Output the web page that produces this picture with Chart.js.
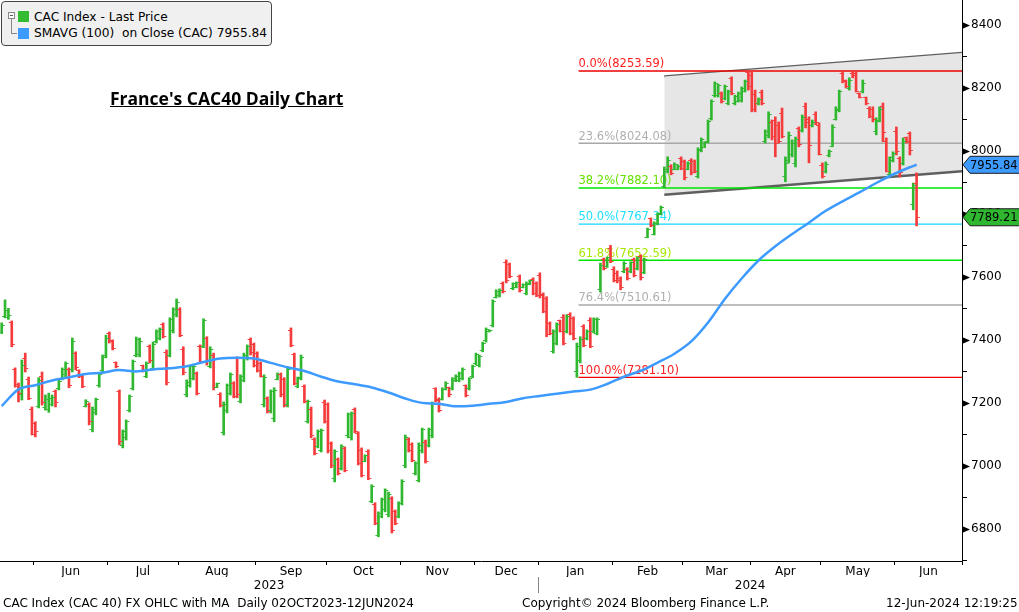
<!DOCTYPE html>
<html>
<head>
<meta charset="utf-8">
<title>France's CAC40 Daily Chart</title>
<script src="https://cdn.jsdelivr.net/npm/chart.js@4.4.1/dist/chart.umd.min.js"></script>
<style>
  body { margin: 0; background: #fff; }
  #wrap { position: relative; width: 1019px; height: 612px; overflow: hidden; font-family: "DejaVu Sans", sans-serif; }
  #c { position: absolute; left: 0; top: 0; }
  #legend { position: absolute; left: 1px; top: 1px; width: 269px; height: 43px; border: 1px solid #444; border-radius: 4px; background: #f0f0f0; font-size: 12.2px; color: #000; }
  #legend div { position: absolute; }
  .tb { left: 6px; top: 10px; width: 5px; height: 5px; border: 1px solid #888; background: #fff; }
  .tb:after { content: ""; position: absolute; left: 1px; top: 2px; width: 3px; height: 1px; background: #555; }
  .tv { left: 9px; top: 17px; width: 1px; height: 14px; background: #888; }
  .th { left: 9px; top: 31px; width: 6px; height: 1px; background: #888; }
  .sq { left: 16px; width: 11px; height: 11px; }
  .lt { left: 32px; white-space: pre; line-height: 14px; }
  #title { position: absolute; left: 110px; top: 87px; font-family: "Open Sans", "DejaVu Sans", sans-serif; font-weight: bold; font-size: 17.5px; line-height: 22px; text-decoration: underline; color: #000; white-space: pre; }
  .foot { position: absolute; top: 596px; font-size: 12px; line-height: 14px; color: #000; white-space: pre; }
</style>
</head>
<body>
<div id="wrap">
  <canvas id="c" width="1019" height="612"></canvas>
  <div id="legend">
    <div class="tb"></div><div class="tv"></div><div class="th"></div>
    <div class="sq" style="top:9px;background:#33bb33"></div>
    <div class="lt" style="top:8px">CAC Index - Last Price</div>
    <div class="sq" style="top:26px;background:#3d9bff"></div>
    <div class="lt" style="top:24px">SMAVG (100)  on Close (CAC) 7955.84</div>
  </div>
  <div id="title">France's CAC40 Daily Chart</div>
  <div class="foot" style="left:3px">CAC Index (CAC 40) FX OHLC with MA  Daily 02OCT2023-12JUN2024</div>
  <div class="foot" style="left:522px">Copyright© 2024 Bloomberg Finance L.P.</div>
  <div class="foot" style="left:886px">12-Jun-2024 12:19:25</div>
</div>
<script>
// x axis: trading day index, month starts (index of first trading day)
var months = ['Jun', 'Jul', 'Aug', 'Sep', 'Oct', 'Nov', 'Dec', 'Jan', 'Feb', 'Mar', 'Apr', 'May', 'Jun'];
var monthStart = [10, 32, 53, 76, 97, 119, 141, 160, 182, 203, 223, 244, 266, 286];
var years = ['2023', '2024'];
var yearStart = [0, 160, 286];

// y axis ticks
var priceTicks = [6700, 6800, 6900, 7000, 7100, 7200, 7300, 7400, 7500, 7600, 7700, 7800, 7900, 8000, 8100, 8200, 8300, 8400];
var priceLabels = [6800, 7000, 7200, 7400, 7600, 7800, 8000, 8200, 8400];

// daily OHLC, 18 May 2023 .. 11 Jun 2024
var opens = [
  7425,7475,7470,7455,7305,7258,7225,7340,7275,7180,
  7135,7190,7285,7185,7180,7195,7235,7245,7278,7290,7305,7305,7358,7302,7285,7190,7195,7115,7170,7255,7302,7350,
  7420,7398,7328,7235,7065,7090,7175,7245,7350,7352,7318,7285,7380,7310,7395,7405,7450,7360,7350,7430,7480,
  7495,7370,7225,7255,7278,7292,7380,7380,7405,7315,7350,7250,7228,7105,7175,7230,7262,7340,7205,7272,7340,7400,7385,
  7358,7325,7195,7215,7175,7150,7275,7290,7275,7195,7430,7352,7252,7280,7252,7142,7180,7085,7062,7050,7200,
  7195,7070,6960,7020,6992,7055,7095,7090,7178,7102,7050,7015,7045,6888,6878,6780,6840,6860,6845,6895,6855,6840,
  6880,7000,7085,7068,6975,6955,7048,7075,7065,7095,7245,7212,7212,7244,7248,7245,7270,7270,7276,7254,7245,7284,
  7324,7318,7365,7397,7426,7445,7536,7540,7580,7645,7640,7562,7567,7600,7566,7548,7577,7592,7580,
  7605,7545,7530,7452,7362,7390,7460,7472,7426,7480,7468,7300,7335,7442,7404,7462,7426,7420,7560,7655,7634,7690,
  7625,7612,7596,7616,7625,7616,7655,7626,7664,7615,7726,7784,7736,7768,7800,7888,7934,7952,7942,7942,7975,
  7965,7942,7970,7966,7920,8000,8012,8030,8102,8175,8175,8183,8166,8150,8230,8150,8158,8160,8190,8248,
  8240,8180,8150,8185,8030,8050,8090,8095,8080,8120,7920,7970,7990,7960,8070,8065,8140,8100,8080,8115,8080,
  7955,7935,7985,8015,8100,8128,8245,8222,8198,8245,8245,8182,8188,8168,8135,8130,8060,8095,8140,8030,7925,7968,
  8060,7975,7960,8042,8055,7830,7895
];
var highs = [
  7454,7527,7500,7460,7311,7263,7336,7358,7282,7187,
  7140,7280,7298,7225,7231,7225,7241,7273,7311,7330,7311,7406,7362,7305,7290,7210,7200,7187,7215,7295,7352,7415,
  7425,7400,7330,7241,7114,7146,7225,7336,7409,7406,7320,7330,7384,7393,7432,7438,7454,7368,7470,7502,7530,
  7502,7378,7273,7320,7320,7298,7384,7467,7410,7378,7358,7263,7232,7203,7260,7295,7267,7346,7289,7358,7384,7406,7390,
  7362,7330,7289,7219,7241,7248,7295,7295,7280,7311,7438,7358,7282,7352,7257,7209,7187,7089,7114,7117,7209,
  7200,7076,7051,7025,7067,7060,7168,7171,7184,7108,7057,7035,7051,6940,6883,6854,6898,6927,6917,6902,6860,6886,
  6956,7098,7089,7073,7013,7073,7120,7082,7120,7203,7248,7216,7248,7267,7250,7280,7289,7298,7311,7257,7280,7320,
  7358,7352,7393,7438,7432,7527,7559,7562,7584,7654,7644,7581,7584,7606,7578,7584,7590,7597,7584,
  7613,7549,7537,7457,7432,7454,7463,7480,7480,7486,7473,7390,7410,7448,7432,7470,7470,7470,7644,7660,7663,7700,
  7632,7619,7600,7648,7629,7648,7660,7663,7670,7660,7755,7787,7775,7803,7825,7949,7981,7956,7962,7956,7981,
  7971,7965,7975,7971,8010,8041,8029,8098,8162,8219,8212,8187,8209,8193,8235,8177,8187,8203,8225,8253.59,
  8250,8193,8168,8193,8067,8124,8098,8108,8092,8136,7981,8060,8035,8044,8076,8114,8152,8108,8098,8124,8089,
  7962,7965,8003,8083,8140,8193,8250,8225,8232,8250,8251,8184,8225,8171,8140,8140,8105,8140,8152,8041,7981,7997,
  8076,7981,8041,8044,8060,7898,7930
];
var lows = [
  7420,7470,7465,7378,7250,7203,7209,7298,7210,7098,
  7092,7184,7193,7177,7170,7190,7187,7241,7273,7282,7248,7298,7305,7280,7248,7187,7130,7108,7162,7250,7298,7343,
  7390,7368,7311,7067,7057,7082,7171,7241,7346,7346,7298,7280,7327,7305,7390,7400,7406,7257,7346,7422,7473,
  7410,7289,7219,7250,7273,7225,7327,7375,7320,7311,7241,7248,7187,7098,7168,7225,7216,7216,7200,7267,7336,7352,7314,
  7298,7282,7187,7168,7168,7140,7273,7219,7187,7187,7378,7257,7248,7273,7200,7136,7089,7035,7057,7044,7136,
  7041,6994,6949,6971,6987,6981,7089,7082,7105,7003,6965,7013,6956,6883,6813,6775,6835,6854,6838,6787,6813,6835,
  6876,6994,7044,7013,6971,6949,7041,7009,7060,7089,7203,7171,7209,7241,7219,7241,7267,7267,7273,7219,7241,7280,
  7320,7314,7362,7393,7425,7441,7533,7536,7549,7581,7597,7559,7565,7552,7565,7543,7575,7543,7537,
  7533,7486,7410,7416,7358,7384,7425,7384,7422,7416,7400,7281.10,7327,7378,7400,7375,7422,7416,7552,7622,7630,7645,
  7584,7581,7559,7613,7590,7613,7600,7622,7590,7610,7724,7759,7733,7765,7797,7883,7930,7924,7940,7940,7940,
  7908,7940,7924,7930,7914,7997,8010,8025,8098,8171,8171,8152,8162,8146,8178,8146,8155,8155,8187,8193,
  8124,8124,8146,8146,8025,8041,8035,7981,8025,8041,7902,7962,7981,7949,8013,8060,8073,7962,8076,8083,7987,
  7914,7930,7981,8013,8098,8124,8216,8200,8193,8232,8187,8168,8184,8146,8105,8092,8051,8092,8029,7933,7917,7965,
  7987,7917,7955,8025,7987,7813,7762
];
var closes = [
  7446,7492,7478,7385,7253,7229,7319,7310,7215,7100,
  7110,7270,7200,7210,7215,7218,7200,7268,7305,7325,7255,7395,7312,7285,7252,7205,7140,7180,7210,7290,7345,7405,
  7395,7372,7315,7077,7108,7140,7220,7330,7400,7395,7302,7325,7335,7385,7428,7432,7410,7265,7465,7495,7520,
  7415,7295,7265,7315,7315,7230,7332,7460,7330,7370,7250,7260,7192,7195,7255,7290,7220,7225,7285,7350,7380,7360,7320,
  7302,7285,7280,7172,7235,7240,7290,7225,7192,7305,7382,7262,7278,7345,7205,7203,7095,7040,7108,7112,7140,
  7050,7000,7045,6975,7062,6985,7162,7165,7110,7008,6970,7032,6960,6935,6818,6850,6892,6922,6910,6795,6818,6882,
  6950,7090,7050,7018,7008,7065,7115,7015,7115,7198,7208,7175,7243,7263,7225,7276,7285,7294,7306,7223,7276,7315,
  7352,7348,7390,7434,7431,7522,7555,7558,7552,7590,7600,7578,7582,7556,7576,7580,7588,7548,7542,
  7540,7490,7418,7420,7428,7448,7428,7390,7475,7420,7405,7380,7402,7382,7428,7380,7465,7464,7635,7628,7660,7650,
  7590,7588,7565,7644,7595,7645,7605,7660,7598,7655,7750,7762,7770,7798,7820,7940,7970,7928,7958,7952,7945,
  7915,7960,7930,7935,8005,8035,8026,8092,8156,8214,8206,8156,8204,8188,8182,8172,8183,8198,8220,8205,
  8130,8150,8162,8150,8060,8115,8045,8024,8030,8045,7960,8050,8025,8035,8020,8106,8090,8016,8090,8090,7990,
  7918,7958,7998,8075,8131,8187,8219,8205,8225,8239,8190,8170,8215,8150,8108,8100,8094,8132,8058,7935,7978,7992,
  7999,7930,8030,8030,8001,7890,7789.21
];

// 100-day simple moving average
var maIdx = [0,5,10,15,20,25,30,35,40,45,50,55,60,65,70,75,80,85,90,95,100,105,110,115,120,125,130,135,140,145,
  150,155,160,165,170,175,180,185,190,195,200,205,210,215,220,225,230,235,240,245,250,255,260,265,270,272];
var maVal = [7190,7243,7256,7271,7281,7292,7296,7304,7300,7306,7310,7316,7330,7341,7343,7341,7327,7313,7301,7283,
  7268,7259,7249,7233,7214,7200,7197,7189,7191,7197,7203,7215,7222,7229,7236,7242,7260,7283,7302,7328,
  7356,7395,7455,7530,7595,7652,7697,7736,7772,7810,7840,7868,7898,7925,7948,7955.84];

// Fibonacci retracement from the Jan low to the high
var fibPct = ['0.0%', '23.6%', '38.2%', '50.0%', '61.8%', '76.4%', '100.0%'];
var fibLevel = [8253.59, 8024.08, 7882.10, 7767.34, 7652.59, 7510.61, 7281.10];
var fibLine = ['#ee0000', '#a8a8a8', '#00e600', '#12d4ff', '#00e600', '#a8a8a8', '#ee0000'];
var fibText = ['#ff2020', '#b0b0b0', '#66e000', '#1ee0ff', '#a8e800', '#b0b0b0', '#ff2020'];
var fibStart = 171.5;

// rising channel
var channelX = [197, 285.5];
var channelTop = [8236, 8311];
var channelBottom = [7861, 7935];

var lastPrice = 7789.21;
var lastMA = 7955.84;

var UP = '#2fb82f', DOWN = '#f53b3b';

var xMin = -0.5, xMax = 285.5;
var boundaryTicks = monthStart.map(function (s) { return s - 0.5; });
var centerTicks = months.map(function (m, i) { return (monthStart[i] + monthStart[i + 1]) / 2 - 0.5; });
var yearCenters = years.map(function (y, i) { return (yearStart[i] + yearStart[i + 1]) / 2 - 0.5; });

// little canvases used as point styles for the open / close ticks
function tickImg(color, left) {
  var c = document.createElement('canvas');
  c.width = 8; c.height = 1;
  var g = c.getContext('2d');
  g.fillStyle = color;
  g.fillRect(left ? 1 : 5, 0, 2, 1);
  return c;
}
var imgs = { ou: tickImg(UP, true), od: tickImg(DOWN, true), cu: tickImg(UP, false), cd: tickImg(DOWN, false) };

var isUp = closes.map(function (c, i) { return c >= opens[i]; });
var barColors = isUp.map(function (u) { return u ? UP : DOWN; });

var datasets = [];
// channel (drawn lowest)
datasets.push({
  type: 'line', label: 'chTop', order: 9,
  data: channelX.map(function (x, i) { return { x: x, y: channelTop[i] }; }),
  borderColor: '#5f5f5f', borderWidth: 2.5, pointRadius: 0, fill: false
});
datasets.push({
  type: 'line', label: 'chBottom', order: 8,
  data: channelX.map(function (x, i) { return { x: x, y: channelBottom[i] }; }),
  borderColor: '#5f5f5f', borderWidth: 2.5, pointRadius: 0,
  fill: '-1', backgroundColor: '#e6e6e6'
});
fibLevel.forEach(function (lv, i) {
  datasets.push({
    type: 'line', label: 'fib' + i, order: 7,
    data: [{ x: fibStart, y: lv }, { x: xMax, y: lv }],
    borderColor: fibLine[i], borderWidth: 1.4, pointRadius: 0, fill: false
  });
});
datasets.push({
  type: 'bar', label: 'CAC Index', order: 3, grouped: false,
  data: highs.map(function (h, i) { return { x: i, y: [lows[i], h] }; }),
  backgroundColor: barColors, barThickness: 2
});
datasets.push({
  type: 'scatter', label: 'open', order: 2,
  data: opens.map(function (o, i) { return { x: i, y: o }; }),
  pointStyle: isUp.map(function (u) { return u ? imgs.ou : imgs.od; }), pointRadius: 1
});
datasets.push({
  type: 'scatter', label: 'close', order: 2,
  data: closes.map(function (c, i) { return { x: i, y: c }; }),
  pointStyle: isUp.map(function (u) { return u ? imgs.cu : imgs.cd; }), pointRadius: 1
});
datasets.push({
  type: 'line', label: 'SMAVG (100)', order: 0,
  data: maIdx.map(function (x, i) { return { x: x, y: maVal[i] }; }),
  borderColor: '#3d9bff', borderWidth: 2.5, pointRadius: 0, fill: false,
  cubicInterpolationMode: 'monotone'
});

// fib labels go right after the channel fill, under the bars
var fibLabels = {
  id: 'fibLabels',
  afterDatasetDraw: function (chart, args) {
    if (chart.data.datasets[args.index].label !== 'chBottom') return;
    var ctx = chart.ctx, xs = chart.scales.x, ys = chart.scales.y;
    ctx.save();
    ctx.font = '11.5px "DejaVu Sans"';
    ctx.textBaseline = 'bottom';
    ctx.textAlign = 'left';
    fibLevel.forEach(function (lv, i) {
      ctx.fillStyle = fibText[i];
      ctx.fillText(fibPct[i] + '(' + lv.toFixed(2) + ')', xs.getPixelForValue(fibStart), ys.getPixelForValue(lv) - 1);
    });
    ctx.restore();
  }
};

function tag(ctx, x, y, w, fill, text) {
  ctx.beginPath();
  ctx.moveTo(x, y);
  ctx.lineTo(x + 7, y - 8.5);
  ctx.lineTo(x + w, y - 8.5);
  ctx.lineTo(x + w, y + 8.5);
  ctx.lineTo(x + 7, y + 8.5);
  ctx.closePath();
  ctx.fillStyle = fill;
  ctx.fill();
  ctx.strokeStyle = '#1a1a1a';
  ctx.lineWidth = 1;
  ctx.stroke();
  ctx.fillStyle = '#000';
  ctx.font = '11.5px "DejaVu Sans"';
  ctx.textBaseline = 'middle';
  ctx.textAlign = 'left';
  ctx.fillText(text, x + 7, y + 1);
}

var decor = {
  id: 'decor',
  afterDraw: function (chart) {
    var ctx = chart.ctx, xs = chart.scales.x, ys = chart.scales.y, a = chart.chartArea;
    ctx.save();
    // arrow heads on the major price ticks
    ctx.fillStyle = '#000';
    priceLabels.forEach(function (v) {
      var y = Math.round(ys.getPixelForValue(v)) + 0.5;
      ctx.beginPath();
      ctx.moveTo(a.right, y - 3.5);
      ctx.lineTo(a.right + 8, y);
      ctx.lineTo(a.right, y + 3.5);
      ctx.closePath();
      ctx.fill();
    });
    // year separator
    var sx = Math.round(xs.getPixelForValue(yearStart[1] - 0.5)) + 0.5;
    ctx.strokeStyle = '#888';
    ctx.lineWidth = 1;
    ctx.beginPath();
    ctx.moveTo(sx, a.bottom + 16);
    ctx.lineTo(sx, a.bottom + 32);
    ctx.stroke();
    // last value tags
    tag(ctx, a.right + 1, ys.getPixelForValue(lastMA), 57, '#3d9bff', lastMA.toFixed(2));
    tag(ctx, a.right + 1, ys.getPixelForValue(lastPrice), 57, '#2fb82f', lastPrice.toFixed(2));
    ctx.restore();
  }
};

function noSidePad(s) { s.paddingLeft = 0; s.paddingRight = 0; }

Chart.defaults.font.family = '"DejaVu Sans", sans-serif';
Chart.defaults.font.size = 12;
Chart.defaults.color = '#000';

new Chart(document.getElementById('c'), {
  type: 'bar',
  data: { datasets: datasets },
  plugins: [fibLabels, decor],
  options: {
    responsive: false,
    devicePixelRatio: 1,
    animation: false,
    events: [],
    layout: { autoPadding: false, padding: { left: 0, top: 0, right: 0, bottom: 19 } },
    plugins: { legend: { display: false }, tooltip: { enabled: false } },
    scales: {
      x: {
        type: 'linear', min: xMin, max: xMax, offset: false, weight: 0,
        afterBuildTicks: function (s) {
          s.ticks = boundaryTicks.concat(centerTicks).sort(function (a, b) { return a - b; })
            .map(function (v) { return { value: v }; });
        },
        afterFit: function (s) { s.height = 16; noSidePad(s); },
        ticks: {
          autoSkip: false, maxRotation: 0, minRotation: 0, padding: 0,
          callback: function (v) { var k = centerTicks.indexOf(v); return k < 0 ? '' : months[k]; }
        },
        grid: {
          drawOnChartArea: false, tickLength: 4, offset: false,
          color: function (c) { return (c.tick && centerTicks.indexOf(c.tick.value) >= 0) ? 'rgba(0,0,0,0)' : '#000'; }
        },
        border: { color: '#000', width: 1 }
      },
      x2: {
        type: 'linear', position: 'bottom', min: xMin, max: xMax, offset: false, weight: 1,
        afterBuildTicks: function (s) { s.ticks = yearCenters.map(function (v) { return { value: v }; }); },
        afterFit: function (s) { s.height = 16; noSidePad(s); },
        ticks: {
          autoSkip: false, maxRotation: 0, minRotation: 0, padding: 2,
          callback: function (v) { return years[yearCenters.indexOf(v)]; }
        },
        grid: { display: false, drawTicks: false },
        border: { display: false }
      },
      y: {
        type: 'linear', position: 'right', min: 6698, max: 8479,
        afterBuildTicks: function (s) { s.ticks = priceTicks.map(function (v) { return { value: v }; }); },
        afterFit: function (s) { s.width = 57; s.paddingTop = 0; s.paddingBottom = 0; },
        ticks: {
          padding: 4,
          callback: function (v) { return priceLabels.indexOf(v) >= 0 ? String(v) : ''; }
        },
        grid: { drawOnChartArea: false, tickLength: 5, color: '#000' },
        border: { color: '#000', width: 1 }
      }
    }
  }
});
</script>
</body>
</html>
